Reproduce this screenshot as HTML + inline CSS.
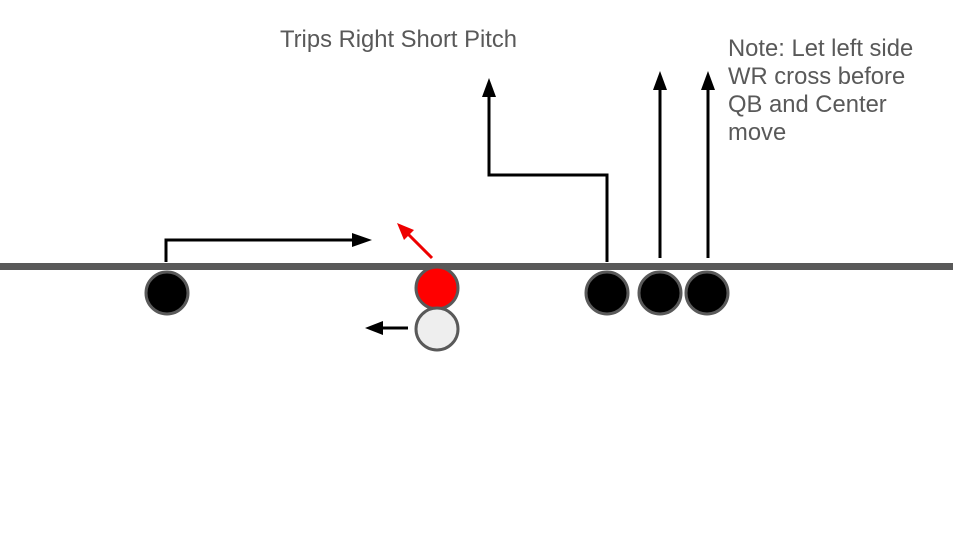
<!DOCTYPE html>
<html><head><meta charset="utf-8"><style>
html,body{margin:0;padding:0;background:#fff;width:953px;height:533px;overflow:hidden}
svg{display:block}
text{font-family:"Liberation Sans",Arial,sans-serif;fill:#595959}
</style></head><body>
<svg width="953" height="533" viewBox="0 0 953 533" xmlns="http://www.w3.org/2000/svg">
<text x="280" y="47" font-size="23.8" textLength="237" lengthAdjust="spacingAndGlyphs">Trips Right Short Pitch</text>
<text font-size="23.8"><tspan x="728" y="56">Note: Let left side</tspan><tspan x="728" y="84">WR cross before</tspan><tspan x="728" y="112">QB and Center</tspan><tspan x="728" y="140">move</tspan></text>
<rect x="0" y="263" width="953" height="7" fill="#595959"/>
<polyline points="166,262 166,240 356,240" fill="none" stroke="#000" stroke-width="3"/>
<path d="M352,233 L372,240 L352,247 z" fill="#000"/>
<line x1="432" y1="258" x2="408" y2="234" stroke="#e00" stroke-width="3"/>
<path d="M397,223 L414,230 L404,240 z" fill="#e00"/>
<line x1="408" y1="328" x2="380" y2="328" stroke="#000" stroke-width="3"/>
<path d="M365,328 L383,321 L383,335 z" fill="#000"/>
<polyline points="607,262 607,175 489,175 489,95" fill="none" stroke="#000" stroke-width="3"/>
<path d="M489,78 L482,97 L496,97 z" fill="#000"/>
<line x1="660" y1="258" x2="660" y2="88" stroke="#000" stroke-width="3"/>
<path d="M660,71 L653,90 L667,90 z" fill="#000"/>
<line x1="708" y1="258" x2="708" y2="88" stroke="#000" stroke-width="3"/>
<path d="M708,71 L701,90 L715,90 z" fill="#000"/>
<g stroke="#595959" stroke-width="3">
<circle cx="167" cy="293" r="21" fill="#000"/>
<circle cx="437" cy="288" r="21" fill="#f00"/>
<circle cx="437" cy="329" r="21" fill="#eeeeee"/>
<circle cx="607" cy="293" r="21" fill="#000"/>
<circle cx="660" cy="293" r="21" fill="#000"/>
<circle cx="707" cy="293" r="21" fill="#000"/>
</g>
</svg>
</body></html>
